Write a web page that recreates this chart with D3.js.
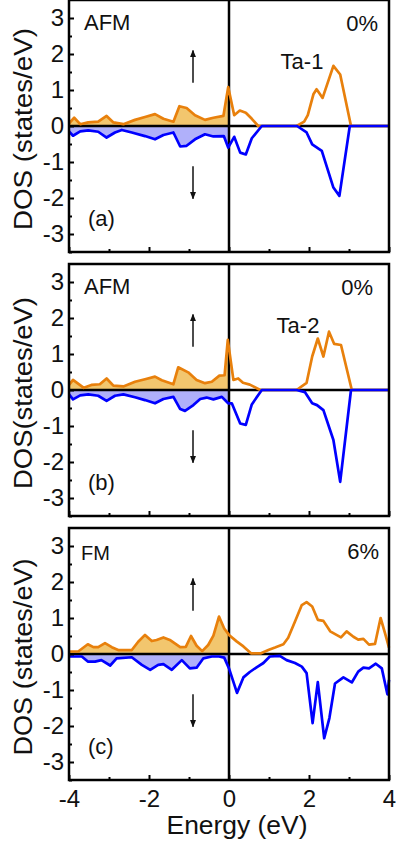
<!DOCTYPE html>
<html>
<head>
<meta charset="utf-8">
<script src="https://cdn.jsdelivr.net/npm/d3@7"></script>
<style>
  html, body { margin: 0; padding: 0; background: #fff; }
  svg { display: block; font-family: "Liberation Sans", Arial, sans-serif; }
</style>
</head>
<body>
<div id="chart"></div>
<script>
// Panel (a) AFM 0% Ta-1
const energyAUp = [-4, -3.87, -3.72, -3.52, -3.27, -3.06, -2.89, -2.64, -2.35, -2.1, -1.85, -1.64, -1.39, -1.24, -1.06, -0.85, -0.6, -0.39, -0.14, -0.02, 0.13, 0.27, 0.42, 0.57, 0.73, 1.69, 1.88, 1.97, 2.11, 2.19, 2.34, 2.61, 2.78, 3.05, 4];
const dosAUp = [0.07, 0.23, 0.05, 0.1, 0.12, 0.28, 0.1, 0.05, 0.17, 0.25, 0.33, 0.2, 0.12, 0.55, 0.5, 0.3, 0.17, 0.23, 0.28, 1.08, 0.3, 0.43, 0.37, 0.2, 0, 0, 0.12, 0.3, 0.88, 1.02, 0.78, 1.67, 1.43, 0, 0];
const energyADown = [-4, -3.9, -3.72, -3.52, -3.27, -3.06, -2.85, -2.68, -2.43, -2.1, -1.85, -1.64, -1.39, -1.22, -1.06, -0.85, -0.6, -0.39, -0.13, -0.02, 0.13, 0.28, 0.42, 0.57, 0.82, 1.7, 1.94, 2.08, 2.32, 2.61, 2.76, 3.02, 4];
const dosADown = [-0.15, -0.27, -0.15, -0.12, -0.16, -0.32, -0.18, -0.11, -0.18, -0.28, -0.37, -0.25, -0.18, -0.57, -0.55, -0.37, -0.23, -0.29, -0.28, -0.6, -0.3, -0.74, -0.79, -0.34, 0, 0, -0.18, -0.51, -0.69, -1.71, -1.94, 0, 0];

// Panel (b) AFM 0% Ta-2
const energyBUp = [-4, -3.9, -3.63, -3.44, -3.23, -3.06, -2.89, -2.64, -2.35, -2.1, -1.85, -1.68, -1.39, -1.27, -1.02, -0.81, -0.6, -0.43, -0.24, -0.11, -0.03, 0.11, 0.23, 0.35, 0.52, 0.78, 1.69, 1.94, 2.08, 2.22, 2.36, 2.5, 2.63, 2.8, 3.07, 4];
const dosBUp = [0.14, 0.28, 0.06, 0.14, 0.16, 0.32, 0.12, 0.1, 0.23, 0.3, 0.37, 0.27, 0.16, 0.63, 0.49, 0.28, 0.19, 0.23, 0.4, 0.41, 1.39, 0.28, 0.32, 0.2, 0.15, 0, 0, 0.2, 0.93, 1.43, 0.93, 1.62, 1.28, 1.25, 0, 0];
const energyBDown = [-4, -3.9, -3.72, -3.52, -3.27, -3.06, -2.85, -2.64, -2.35, -2.1, -1.85, -1.64, -1.39, -1.22, -1.1, -0.89, -0.72, -0.56, -0.39, -0.18, -0.02, 0.07, 0.28, 0.42, 0.57, 0.82, 1.69, 1.9, 2.08, 2.2, 2.36, 2.61, 2.78, 3.05, 4];
const dosBDown = [-0.12, -0.26, -0.15, -0.12, -0.16, -0.3, -0.16, -0.12, -0.2, -0.28, -0.37, -0.25, -0.19, -0.53, -0.58, -0.42, -0.25, -0.21, -0.26, -0.19, -0.37, -0.37, -0.93, -0.97, -0.4, 0, 0, -0.06, -0.37, -0.42, -0.56, -1.39, -2.55, 0, 0];

// Panel (c) FM 6%
const energyCUp = [-4, -3.77, -3.53, -3.39, -3.27, -3.1, -2.93, -2.77, -2.43, -2.27, -2.1, -1.93, -1.81, -1.64, -1.48, -1.22, -1.08, -0.95, -0.81, -0.67, -0.52, -0.39, -0.25, -0.12, 0, 0.19, 0.36, 0.55, 0.8, 1.0, 1.15, 1.36, 1.48, 1.65, 1.82, 1.94, 2.08, 2.22, 2.36, 2.53, 2.8, 2.94, 3.11, 3.23, 3.36, 3.5, 3.65, 3.79, 3.9, 4];
const dosCUp = [0.07, 0.07, 0.27, 0.19, 0.19, 0.3, 0.19, 0.11, 0.11, 0.34, 0.53, 0.36, 0.39, 0.46, 0.39, 0.19, 0.2, 0.5, 0.23, 0.08, 0.25, 0.51, 1.04, 0.71, 0.53, 0.35, 0.21, 0.02, 0.02, 0.12, 0.18, 0.27, 0.45, 0.9, 1.36, 1.44, 1.32, 0.95, 0.92, 0.63, 0.46, 0.63, 0.48, 0.4, 0.42, 0.26, 0.28, 1.0, 0.58, 0.18];
const energyCDown = [-4, -3.68, -3.53, -3.35, -3.19, -2.97, -2.81, -2.43, -2.18, -1.97, -1.77, -1.64, -1.43, -1.18, -0.98, -0.81, -0.64, -0.43, -0.25, -0.12, 0, 0.2, 0.36, 0.52, 0.69, 0.86, 1.02, 1.27, 1.44, 1.65, 1.82, 1.94, 2.09, 2.22, 2.38, 2.51, 2.65, 2.86, 3.07, 3.23, 3.36, 3.5, 3.67, 3.82, 3.96, 4];
const dosCDown = [-0.07, -0.07, -0.21, -0.21, -0.17, -0.32, -0.12, -0.09, -0.3, -0.44, -0.3, -0.28, -0.44, -0.17, -0.4, -0.38, -0.12, -0.07, -0.07, -0.1, -0.4, -1.08, -0.65, -0.5, -0.37, -0.25, -0.07, -0.05, -0.17, -0.25, -0.35, -0.53, -1.92, -0.78, -2.34, -1.78, -0.82, -0.65, -0.79, -0.49, -0.38, -0.4, -0.27, -0.4, -1.12, -0.72];

const yTicks = [-3, -2, -1, 0, 1, 2, 3];
const xTicks = [-4, -2, 0, 2, 4];

const width = 396;
const height = 845;
const left = 69;
const right = 389;
const panelHeight = 252;

const orange = '#e8800c';
const orangeFill = '#f2c66e';
const blue = '#0000ff';
const blueFill = '#b0b0fa';

const panels = [
  { id: 'a', top: 0, up: [energyAUp, dosAUp], down: [energyADown, dosADown],
    mag: 'AFM', strain: '0%', site: 'Ta-1', siteX: 302, pctX: 378, ylabel: 'DOS (states/eV)', ylen: 202 },
  { id: 'b', top: 264, up: [energyBUp, dosBUp], down: [energyBDown, dosBDown],
    mag: 'AFM', strain: '0%', site: 'Ta-2', siteX: 298, pctX: 373, ylabel: 'DOS(states/eV)', ylen: 192 },
  { id: 'c', top: 528, up: [energyCUp, dosCUp], down: [energyCDown, dosCDown],
    mag: 'FM', strain: '6%', site: null, pctX: 379, ylabel: 'DOS (states/eV)', ylen: 197 },
];

const svg = d3.select('#chart')
  .append('svg')
  .attr('width', width)
  .attr('height', height);

const defs = svg.append('defs');
defs.append('marker')
  .attr('id', 'head')
  .attr('viewBox', '0 0 10 10')
  .attr('refX', 9)
  .attr('refY', 5)
  .attr('markerWidth', 5)
  .attr('markerHeight', 5)
  .attr('orient', 'auto')
  .append('path')
  .attr('d', 'M0,1 L10,5 L0,9 Z')
  .attr('fill', '#111');

const x = d3.scaleLinear().domain([-4, 4]).range([left, right]);
const plain = (d) => String(d);

panels.forEach((p, i) => {
  const y = d3.scaleLinear().domain([-3.5, 3.5]).range([p.top + panelHeight, p.top]);
  const g = svg.append('g').attr('class', 'panel-' + p.id);

  const toPts = (pair) => pair[0].map((e, k) => ({ e: e, v: pair[1][k] }));
  const upPts = toPts(p.up);
  const downPts = toPts(p.down);

  // fill only below the Fermi level
  const clipId = 'occ-' + p.id;
  defs.append('clipPath').attr('id', clipId)
    .append('rect')
    .attr('x', left)
    .attr('y', p.top)
    .attr('width', x(0) - left)
    .attr('height', panelHeight);

  const area = d3.area().x((d) => x(d.e)).y0(y(0)).y1((d) => y(d.v));
  const line = d3.line().x((d) => x(d.e)).y((d) => y(d.v));

  g.append('path').datum(upPts)
    .attr('d', area)
    .attr('fill', orangeFill)
    .attr('clip-path', 'url(#' + clipId + ')');
  g.append('path').datum(downPts)
    .attr('d', area)
    .attr('fill', blueFill)
    .attr('clip-path', 'url(#' + clipId + ')');

  // zero line and Fermi level
  g.append('line')
    .attr('x1', left).attr('x2', right)
    .attr('y1', y(0)).attr('y2', y(0))
    .attr('stroke', '#000').attr('stroke-width', 2.5);
  g.append('line')
    .attr('x1', x(0)).attr('x2', x(0))
    .attr('y1', p.top).attr('y2', p.top + panelHeight)
    .attr('stroke', '#000').attr('stroke-width', 2.5);

  g.append('path').datum(upPts)
    .attr('d', line)
    .attr('fill', 'none')
    .attr('stroke', orange)
    .attr('stroke-width', 2.7)
    .attr('stroke-linejoin', 'round');
  g.append('path').datum(downPts)
    .attr('d', line)
    .attr('fill', 'none')
    .attr('stroke', blue)
    .attr('stroke-width', 2.7)
    .attr('stroke-linejoin', 'round');

  // y axis, ticks pointing inward
  const yAxis = g.append('g')
    .attr('transform', 'translate(' + left + ',0)')
    .call(d3.axisLeft(y).tickValues(yTicks).tickSizeInner(-5).tickSizeOuter(0).tickPadding(5).tickFormat(plain));
  g.append('g')
    .attr('transform', 'translate(' + left + ',0)')
    .call(d3.axisLeft(y).tickValues([-3.5, -2.5, -1.5, -0.5, 0.5, 1.5, 2.5]).tickSizeInner(-3).tickSizeOuter(0).tickFormat(''))
    .select('.domain').remove();
  yAxis.select('.domain').remove();
  yAxis.selectAll('text')
    .style('font-size', '24px')
    .style('font-family', '"Liberation Sans", Arial, sans-serif')
    .attr('fill', '#111');

  // x axis ticks
  const xAxis = g.append('g')
    .attr('transform', 'translate(0,' + (p.top + panelHeight) + ')')
    .call(d3.axisBottom(x).tickValues(xTicks).tickSizeInner(-5).tickSizeOuter(0).tickPadding(10)
      .tickFormat(i === 2 ? plain : ''));
  g.append('g')
    .attr('transform', 'translate(0,' + (p.top + panelHeight) + ')')
    .call(d3.axisBottom(x).tickValues([-3, -1, 1, 3]).tickSizeInner(-3).tickSizeOuter(0).tickFormat(''))
    .select('.domain').remove();
  xAxis.select('.domain').remove();
  xAxis.selectAll('text')
    .style('font-size', '24px')
    .style('font-family', '"Liberation Sans", Arial, sans-serif')
    .attr('fill', '#111');
  g.selectAll('.tick line').attr('stroke', '#000').attr('stroke-width', 2);

  // frame
  g.append('rect')
    .attr('x', left).attr('y', p.top)
    .attr('width', right - left).attr('height', panelHeight)
    .attr('fill', 'none')
    .attr('stroke', '#000')
    .attr('stroke-width', 2.5);

  // spin arrows
  g.append('line')
    .attr('x1', x(-0.9)).attr('x2', x(-0.9))
    .attr('y1', y(1.2)).attr('y2', y(2.1))
    .attr('stroke', '#111').attr('stroke-width', 1.5)
    .attr('marker-end', 'url(#head)');
  g.append('line')
    .attr('x1', x(-0.9)).attr('x2', x(-0.9))
    .attr('y1', y(-1.12)).attr('y2', y(-2.02))
    .attr('stroke', '#111').attr('stroke-width', 1.5)
    .attr('marker-end', 'url(#head)');

  // labels
  g.append('text')
    .attr('x', i === 2 ? 81 : 84)
    .attr('y', p.top + (i === 2 ? 32 : 30))
    .style('font-size', i === 2 ? '20px' : '22px')
    .attr('fill', '#111')
    .text(p.mag);
  g.append('text')
    .attr('x', p.pctX)
    .attr('y', p.top + 31)
    .attr('text-anchor', 'end')
    .style('font-size', '22px')
    .attr('fill', '#111')
    .text(p.strain);
  if (p.site) {
    g.append('text')
      .attr('x', p.siteX)
      .attr('y', p.top + 69)
      .attr('text-anchor', 'middle')
      .style('font-size', '22px')
      .attr('fill', '#111')
      .text(p.site);
  }
  g.append('text')
    .attr('x', 88)
    .attr('y', p.top + 226)
    .style('font-size', '22px')
    .attr('fill', '#111')
    .text('(' + p.id + ')');

  // y label
  g.append('text')
    .attr('transform', 'translate(32,' + (p.top + 129) + ') rotate(-90)')
    .attr('text-anchor', 'middle')
    .attr('textLength', p.ylen)
    .attr('lengthAdjust', 'spacingAndGlyphs')
    .style('font-size', '25px')
    .attr('fill', '#111')
    .text(p.ylabel);
});

// x label
svg.append('text')
  .attr('x', 237)
  .attr('y', 834)
  .attr('text-anchor', 'middle')
  .attr('textLength', 141)
  .attr('lengthAdjust', 'spacingAndGlyphs')
  .style('font-size', '25px')
  .attr('fill', '#111')
  .text('Energy (eV)');
</script>
</body>
</html>
